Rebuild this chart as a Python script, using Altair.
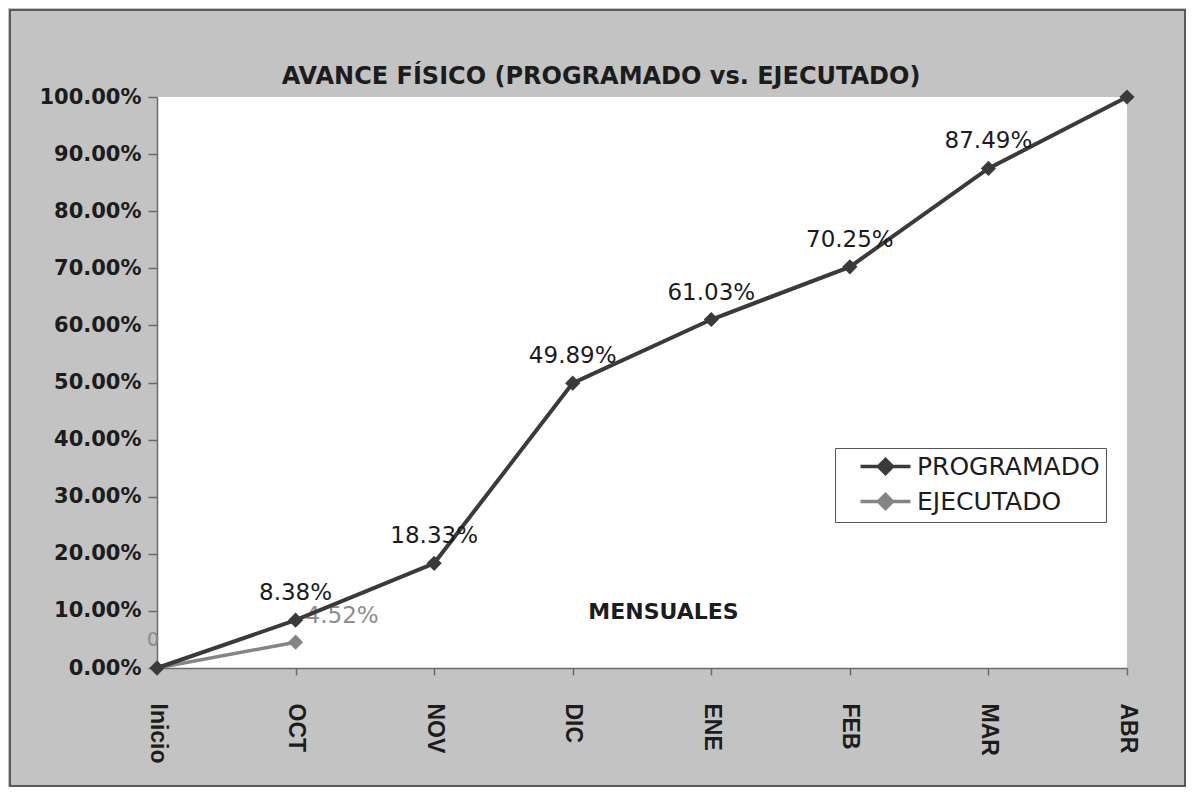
import altair as alt
import pandas as pd

# ---- data ----
months = ["Inicio", "OCT", "NOV", "DIC", "ENE", "FEB", "MAR", "ABR"]
programado = [0.0, 0.0838, 0.1833, 0.4989, 0.6103, 0.7025, 0.8749, 1.0]
programado_labels = ["", "8.38%", "18.33%", "49.89%", "61.03%", "70.25%", "87.49%", ""]
ejecutado_months = ["Inicio", "OCT"]
ejecutado = [0.0, 0.0452]
ejecutado_labels = ["0", "4.52%"]
series = ["PROGRAMADO", "EJECUTADO"]
series_colors = ["#3a3a3a", "#858585"]
y_ticks = [0.0, 0.1, 0.2, 0.3, 0.4, 0.5, 0.6, 0.7, 0.8, 0.9, 1.0]

prog_df = pd.DataFrame({"mes": months, "valor": programado,
                        "etiqueta": programado_labels, "serie": series[0]})
ejec_df = pd.DataFrame({"mes": ejecutado_months, "valor": ejecutado,
                        "etiqueta": ejecutado_labels, "serie": series[1]})

DARK = "#1c1c1c"
AXIS_GRAY = "#6a6a6a"

x_enc = alt.X(
    "mes:N",
    sort=months,
    scale=alt.Scale(type="point", domain=months, padding=0),
    axis=alt.Axis(
        title="MENSUALES",
        titleX=506, titleY=-57, titleAngle=0,
        titleAlign="center", titleBaseline="middle",
        titleFont="DejaVu Sans", titleFontSize=22, titleFontWeight="bold",
        titleColor=DARK,
        labelAngle=90, labelAlign="left", labelBaseline="middle",
        labelFont="Liberation Sans Narrow, Liberation Sans",
        labelFontSize=23, labelFontWeight="bold", labelColor=DARK,
        labelPadding=28,
        tickSize=7, tickColor=AXIS_GRAY, tickWidth=1.5,
        domainColor=AXIS_GRAY, domainWidth=1.5,
        grid=False,
    ),
)
y_enc = alt.Y(
    "valor:Q",
    scale=alt.Scale(domain=[0, 1], nice=False, zero=True),
    axis=alt.Axis(
        title=None, format=".2%", values=y_ticks,
        labelFont="DejaVu Sans", labelFontSize=21, labelFontWeight="bold",
        labelColor=DARK, labelPadding=7,
        tickSize=9, tickColor=AXIS_GRAY, tickWidth=1.5,
        domainColor=AXIS_GRAY, domainWidth=1.5,
        grid=False,
    ),
)
color_enc = alt.Color(
    "serie:N",
    scale=alt.Scale(domain=series, range=series_colors),
    legend=alt.Legend(
        title=None, orient="none", legendX=678, legendY=351,
        fillColor="white", strokeColor="#555555", padding=6,
        labelFont="DejaVu Sans", labelFontSize=25, labelColor=DARK,
        labelLimit=400, labelOffset=19,
        symbolType="M-2.5,0H2.5M0,-0.7L0.7,0L0,0.7L-0.7,0Z",
        symbolSize=400, symbolStrokeWidth=3.5, symbolOffset=32,
        rowPadding=6,
    ),
)

point_def = alt.OverlayMarkDef(shape="diamond", size=230, filled=True)

ejec_line = alt.Chart(ejec_df).mark_line(strokeWidth=3.5, point=point_def).encode(
    x=x_enc, y=y_enc, color=color_enc)
prog_line = alt.Chart(prog_df).mark_line(strokeWidth=4, point=point_def).encode(
    x=x_enc, y=y_enc, color=color_enc)

prog_text = alt.Chart(prog_df).mark_text(
    font="DejaVu Sans", fontSize=23, color=DARK, align="center",
    baseline="middle", dy=-27,
).encode(x=x_enc, y=y_enc, text="etiqueta:N")

ejec_text_oct = alt.Chart(ejec_df).transform_filter(
    alt.datum.mes == "OCT"
).mark_text(
    font="DejaVu Sans", fontSize=23, color="#8e8e8e", align="left",
    baseline="middle", dx=10, dy=-26,
).encode(x=x_enc, y=y_enc, text="etiqueta:N")

ejec_text_ini = alt.Chart(ejec_df).transform_filter(
    alt.datum.mes == "Inicio"
).mark_text(
    font="DejaVu Sans", fontSize=19, color="#8a8a8a", align="center",
    baseline="middle", dx=-4, dy=-28,
).encode(x=x_enc, y=y_enc, text="etiqueta:N")

border = alt.Chart(pd.DataFrame({"b": [0]})).mark_rect(
    fillOpacity=0, stroke="#3a3a3a", strokeWidth=1.5
).encode(
    x=alt.value(-147), x2=alt.value(1028),
    y=alt.value(-87), y2=alt.value(689),
)

chart = alt.layer(
    border, ejec_text_oct, ejec_text_ini, ejec_line, prog_line, prog_text
).properties(
    width=970, height=571,
    padding={"left": 149, "top": 89, "right": 59, "bottom": 119},
    autosize=alt.AutoSizeParams(type="none"),
    background="#c3c3c3",
    title=alt.Title(
        "AVANCE FÍSICO (PROGRAMADO vs. EJECUTADO)",
        font="DejaVu Sans", fontSize=24, fontWeight="bold", color=DARK,
        anchor="middle", dx=-41, dy=90, offset=10,
    ),
).configure_view(
    fill="white", strokeWidth=0,
)

chart.save("out.html", embed_options={"renderer": "svg", "actions": False})
